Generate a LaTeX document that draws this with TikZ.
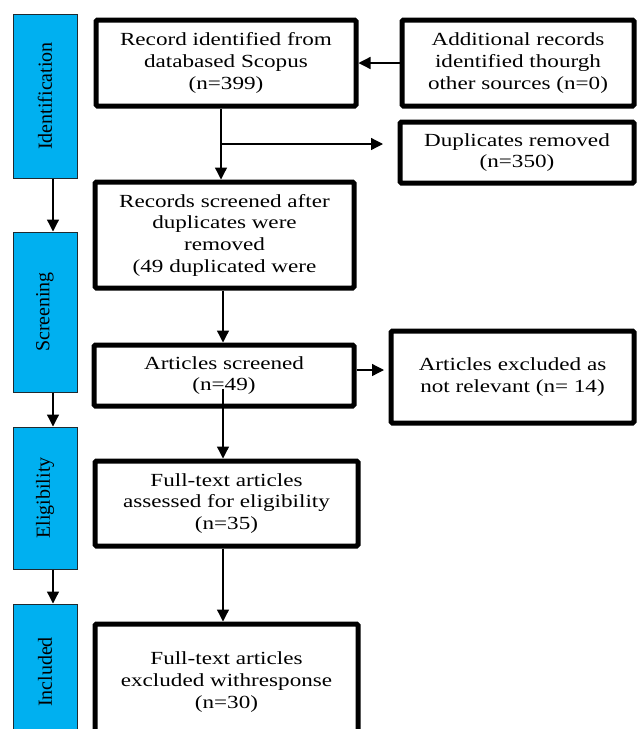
\documentclass[tikz,border=0pt]{standalone}
\usepackage{fontspec}
\setmainfont{Liberation Serif}[FakeStretch=1.25]
\newfontfamily\phasefont{Liberation Serif}
\usepackage{tikz}
\usepackage{xcolor}
\usetikzlibrary{positioning, arrows.meta}
\definecolor{phaseBlue}{HTML}{00B0F0}
\definecolor{phaseEdge}{HTML}{1F2A30}
\newcommand{\flowfont}{\fontsize{18.5}{21.7}\selectfont}
\newcommand{\phasesize}{\phasefont\fontsize{20}{22}\selectfont}
\tikzset{
  phasebox/.style={draw=phaseEdge, line width=1pt, fill=phaseBlue, rotate=90,
                   minimum height=64pt, inner sep=0pt, font=\phasesize},
  flowbox/.style={draw=black, line width=5pt, rounded corners=1.5pt, fill=white,
                  align=center, inner sep=2pt, font=\flowfont},
  arr/.style={line width=1.3pt, -{Triangle[length=12pt, width=12pt]}},
}

\begin{document}
\begin{tikzpicture}[x=1pt, y=-1pt]
        \useasboundingbox (0,0) rectangle (638,729);
        % phases
        \node[phasebox, minimum width=164pt] (idphase)   at (45,96)  {Identification};
        \node[phasebox, minimum width=160pt] (scrphase)  at (45,312) {Screening};
        \node[phasebox, minimum width=142pt] (eligphase) at (45,498) {Eligibility};
        \node[phasebox, minimum width=136pt] (inclphase) at (45,672) {Included};
        \draw[arr] ([xshift=8pt]idphase.west)   -- ([xshift=8pt]scrphase.east);
        \draw[arr] ([xshift=8pt]scrphase.west)  -- ([xshift=8pt]eligphase.east);
        \draw[arr] ([xshift=8pt]eligphase.west) -- ([xshift=8pt]inclphase.east);
        % flow
        \node[flowbox, minimum width=260pt, minimum height=86pt] (rec) at (226,63)
              {Record identified from\\databased Scopus\\(n=399)};
        \node[flowbox, minimum width=232pt, minimum height=86pt] (addrec) at (518,63)
              {Additional records\\identified thourgh\\other sources (n=0)};
        \node[flowbox, minimum width=234pt, minimum height=61pt] (dup) at (517,152.5)
              {Duplicates removed\\(n=350)};
        \node[flowbox, minimum width=259pt, minimum height=106pt] (scr) at (224.5,235)
              {Records screened after\\duplicates were\\removed\\(49 duplicated were};
        \node[flowbox, minimum width=260pt, minimum height=61pt] (art) at (224,375.5)
              {Articles screened\\(n=49)};
        \node[flowbox, minimum width=243pt, minimum height=92pt] (artex) at (512.5,377)
              {Articles excluded as\\not relevant (n= 14)};
        \node[flowbox, minimum width=263pt, minimum height=85pt] (full) at (226.5,503.5)
              {Full-text articles\\assessed for eligibility\\(n=35)};
        \node[flowbox, minimum width=263pt, minimum height=116pt] (fullex) at (226.5,682)
              {Full-text articles\\excluded withresponse\\(n=30)};
        \coordinate (dupend) at (383,144);
        \coordinate (artexend) at (384,370);
        \draw[arr] (addrec.west) -- (addrec.west -| rec.east);
        \draw[arr] ([xshift=-5pt]rec.south) -- ([xshift=-5pt]rec.south |- scr.north);
        \draw[arr] ([xshift=-5pt]rec.south |- dupend) -- (dupend);
        \draw[arr] ([xshift=-1.5pt]scr.south) -- ([xshift=-1.5pt]scr.south |- art.north);
        \draw[arr] (art.east |- artexend) -- (artexend);
        \draw[arr] ([xshift=-1pt,yshift=20pt]art.south) -- ([xshift=-1pt]art.south |- full.north);
        \draw[arr] ([xshift=-3.5pt]full.south) -- ([xshift=-3.5pt]fullex.north);
      \end{tikzpicture}
\end{document}
